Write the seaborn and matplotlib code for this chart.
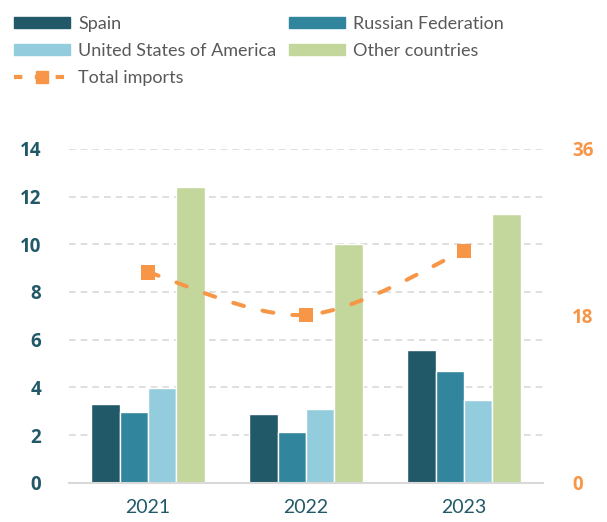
import matplotlib
matplotlib.use("Agg")
import matplotlib.pyplot as plt
from matplotlib.path import Path
from matplotlib.patches import PathPatch, Patch
from matplotlib.lines import Line2D
import numpy as np
import pandas as pd
import seaborn as sns

years = ["2021", "2022", "2023"]
countries = ["Spain", "Russian Federation", "United States of America", "Other countries"]
spain = [3.3, 2.87, 5.57]
russia = [2.97, 2.11, 4.70]
usa = [3.96, 3.09, 3.47]
other = [12.42, 10.02, 11.26]
total = [22.7, 18.1, 25.0]
left_ticks = [0, 2, 4, 6, 8, 10, 12, 14]
right_ticks = [0, 18, 36]

colors = ["#215968", "#31859C", "#93CDDD", "#C3D69B"]
orange = "#F79646"
teal = "#215968"
grey_txt = "#595959"

sns.set_style("white")
plt.rcParams["font.family"] = ["Lato", "DejaVu Sans"]
bold_font = {"family": ["Open Sans", "DejaVu Sans"], "weight": "bold", "size": 13.5}

df = pd.DataFrame({
    "year": years * 4,
    "country": [c for c in countries for _ in years],
    "value": spain + russia + usa + other,
})
tot_df = pd.DataFrame({"year": years, "total": total})

fig = plt.figure(figsize=(6.07, 5.22), dpi=100)
ax = fig.add_axes([0.1137, 0.0753, 0.7809, 0.6393])

sns.barplot(data=df, x="year", y="value", hue="country", hue_order=countries,
            palette=colors, saturation=1, width=0.72, edgecolor="white",
            linewidth=1.0, legend=False, ax=ax)
ax.set_ylim(0, 14)
ax.set_yticks(left_ticks, [str(t) for t in left_ticks], fontdict=bold_font)
ax.set_xlim(-0.5, 2.5)
ax.yaxis.grid(True, ls=(0, (4, 3)), color="#D9D9D9", lw=1.2)
ax.set_axisbelow(True)
for s in ["top", "right", "left"]:
    ax.spines[s].set_visible(False)
ax.spines["bottom"].set_color("#D9D9D9")
ax.spines["bottom"].set_linewidth(1.5)
ax.set_xlabel("")
ax.set_ylabel("")
ax.tick_params(axis="y", length=0, pad=20, labelcolor=teal)
ax.tick_params(axis="x", length=0, pad=12, labelsize=14, labelcolor=teal)

ax2 = ax.twinx()
ax2.set_ylim(0, 36)
ax2.set_yticks(right_ticks, [str(t) for t in right_ticks], fontdict=bold_font)
for s in ["top", "right", "left", "bottom"]:
    ax2.spines[s].set_visible(False)
ax2.tick_params(axis="y", length=0, pad=21, labelcolor=orange)

# smoothed line through the totals (Catmull-Rom as bezier)
xs = np.arange(len(total), dtype=float)
pts = np.column_stack([xs, total])
ext = np.vstack([pts[0], pts, pts[-1]])
verts = [tuple(pts[0])]
codes = [Path.MOVETO]
for i in range(len(pts) - 1):
    p0, p1, p2, p3 = ext[i], ext[i + 1], ext[i + 2], ext[i + 3]
    c1 = p1 + (p2 - p0) / 6
    c2 = p2 - (p3 - p1) / 6
    verts += [tuple(c1), tuple(c2), tuple(p2)]
    codes += [Path.CURVE4] * 3
patch = PathPatch(Path(verts, codes), fill=False, edgecolor=orange, lw=2.9,
                  ls=(0, (2.75, 4.75)), capstyle="round", zorder=3)
ax2.add_patch(patch)
sns.scatterplot(data=tot_df, x="year", y="total", marker="s", s=110,
                color=orange, edgecolor="none", zorder=4, legend=False, ax=ax2)
ax2.set_xlim(-0.5, 2.5)
ax2.set_xlabel("")
ax2.set_ylabel("")

handles = [Patch(color=c) for c in colors]
line_h = Line2D([], [], color=orange, lw=3, ls=(0, (2, 3)), marker="s", markersize=8)
order = [handles[0], handles[2], line_h, handles[1], handles[3]]
labels = [countries[0], countries[2], "Total imports", countries[1], countries[3]]
fig.legend(order, labels, loc="upper left", bbox_to_anchor=(0.005, 0.99), ncol=2,
           frameon=False, fontsize=13, labelcolor=grey_txt, handlelength=3.1,
           handleheight=0.55, handletextpad=0.45, columnspacing=0.7, labelspacing=0.6,
           borderaxespad=0.2)

plt.savefig("out.png", dpi=100)
